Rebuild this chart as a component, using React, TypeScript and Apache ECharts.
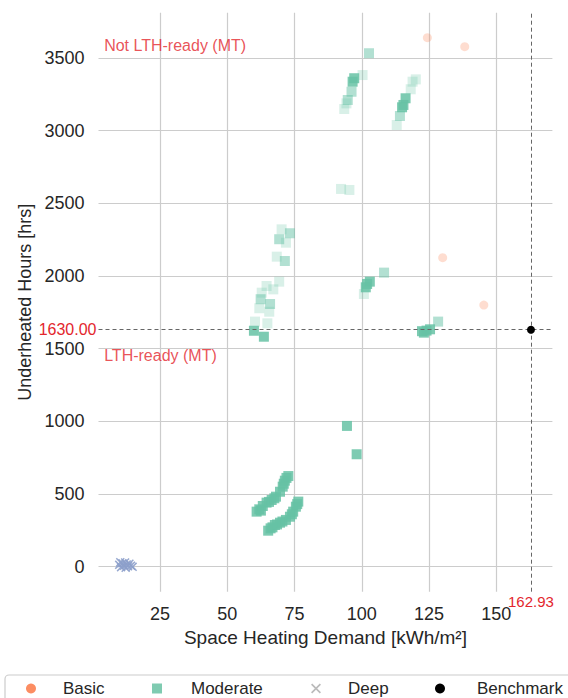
import React, { useEffect, useRef } from 'react';
import * as echarts from 'echarts';

// ---- data ----
const X_TICKS = [25, 50, 75, 100, 125, 150];
const Y_TICKS = [0, 500, 1000, 1500, 2000, 2500, 3000, 3500];
const X_RANGE = [2.1, 170.9];
const Y_RANGE = [-173, 3812];

const BASIC = [
  [124.4, 3640], [138.3, 3578], [130.1, 2126], [145.4, 1800],
];

const MODERATE_STRONG = [
  [97.2, 3361], [96.6, 3337],
  [116.3, 3223], [115.5, 3177], [115.0, 3161],
  [59.9, 1623], [63.6, 1582],
  [103.0, 1961], [102.0, 1945], [101.5, 1922],
  [124.1, 1624], [123.1, 1610], [125.4, 1633], [122.4, 1620],
  [94.5, 968], [98.1, 773],
  [60.9, 378], [61.9, 394], [62.5, 385], [63.2, 417], [64.6, 440], [65.5, 445],
  [66.5, 458], [67.5, 470], [68.1, 481], [69.6, 515], [70.6, 550], [71.0, 570],
  [71.4, 591], [72.0, 610], [72.7, 623],
  [65.2, 247], [66.1, 263], [66.8, 270], [67.7, 286], [68.5, 290], [69.6, 302],
  [70.5, 310], [71.8, 321], [73.3, 343], [74.0, 360], [74.5, 378], [75.5, 412],
  [76.0, 430], [76.4, 447],
];

const MODERATE_MID = [
  [102.7, 3533], [96.2, 3268], [94.8, 3211], [114.2, 3101],
  [73.3, 2294], [69.3, 2253], [71.4, 2103], [65.9, 1807], [62.4, 1840],
  [108.3, 2023], [128.4, 1686],
];

const MODERATE_FAINT = [
  [100.3, 3383], [94.3, 3188], [93.5, 3149],
  [120.1, 3353], [118.9, 3337], [118.2, 3285], [113.0, 3039],
  [92.3, 2599], [95.4, 2592],
  [70.2, 2321], [71.8, 2229], [68.4, 2133], [69.3, 1961], [67.1, 1908],
  [64.6, 1931], [62.8, 1885], [61.9, 1778], [65.6, 1754], [60.3, 1686],
  [64.9, 1674], [100.8, 1876],
];

const DEEP = [
  [9.8, 12], [10.5, -4], [11.0, 22], [11.6, 5], [12.2, -8], [12.6, 15],
  [13.1, 2], [13.6, 20], [14.2, 6], [10.2, 30], [12.0, 28], [14.8, -2],
];

const BENCHMARK = [[162.93, 1630]];
const THRESHOLD_HOURS = 1630;
const BENCHMARK_DEMAND = 162.93;

const ANNOTATIONS = [
  { name: 'Not LTH-ready (MT)', value: [4.2, 3583] },
  { name: 'LTH-ready (MT)', value: [4.2, 1456] },
];

const LEGEND_NAMES = ['Basic', 'Moderate', 'Deep', 'Benchmark'];

// ---- styling ----
const FONT = '"Liberation Sans", Arial, Helvetica, sans-serif';
const TEXT = '#262626';
const RED = '#e3262d';
const C_BASIC = '#fc8d62';
const C_MOD = '#66c2a5';
const C_DEEP = '#8da0cb';
const X_ICON =
  'path://M0,1.2L1.2,0L5,3.8L8.8,0L10,1.2L6.2,5L10,8.8L8.8,10L5,6.2L1.2,10L0,8.8L3.8,5Z';
const SQ_ICON = 'path://M0,0L10,0L10,10L0,10Z';

const LEGEND_LAYOUT: Record<string, { center: number; gap: number }> = {
  Basic: { center: 31, gap: 22 },
  Moderate: { center: 157, gap: 24 },
  Deep: { center: 316, gap: 22 },
  Benchmark: { center: 440, gap: 27 },
};
const LEGEND_ICONS: Record<string, any> = {
  Basic: { icon: 'circle', itemStyle: { color: C_BASIC, opacity: 1 } },
  Moderate: { icon: SQ_ICON, itemStyle: { color: '#7fcbb1', opacity: 1 } },
  Deep: { icon: X_ICON, itemStyle: { color: '#bbbbbb', opacity: 1 } },
  Benchmark: { icon: 'circle', itemStyle: { color: '#000000', opacity: 1 } },
};

function buildOption() {
  const modSeries = (data: number[][], opacity: number) => ({
    type: 'scatter',
    name: 'Moderate',
    symbol: 'rect',
    symbolSize: 10,
    data,
    itemStyle: { color: C_MOD, opacity },
    z: 3,
  });
  const plain = (v: number) => String(v);

  return {
    animation: false,
    textStyle: { fontFamily: FONT },
    grid: { left: 98.5, right: 15.6, top: 12.7, bottom: 106.3, containLabel: false },
    xAxis: {
      type: 'value',
      min: X_RANGE[0],
      max: X_RANGE[1],
      name: 'Space Heating Demand [kWh/m²]',
      nameLocation: 'middle',
      nameGap: 32,
      nameTextStyle: { fontSize: 19, color: TEXT, fontFamily: FONT },
      axisLine: { show: false },
      axisTick: { show: false, customValues: X_TICKS },
      axisLabel: { customValues: X_TICKS, formatter: plain, fontSize: 18, color: TEXT, margin: 13, fontFamily: FONT },
      splitLine: { show: true, lineStyle: { color: '#cccccc', width: 1.2 } },
    },
    yAxis: {
      type: 'value',
      min: Y_RANGE[0],
      max: Y_RANGE[1],
      name: 'Underheated Hours [hrs]',
      nameLocation: 'middle',
      nameGap: 65,
      nameTextStyle: { fontSize: 18, color: TEXT, fontFamily: FONT },
      axisLine: { show: false },
      axisTick: { show: false, customValues: Y_TICKS },
      axisLabel: { customValues: Y_TICKS, formatter: plain, fontSize: 18, color: TEXT, margin: 14, fontFamily: FONT },
      splitLine: { show: true, lineStyle: { color: '#cccccc', width: 1.2 } },
    },
    legend: LEGEND_NAMES.map((name) => ({
      data: [{ name, ...LEGEND_ICONS[name] }],
      left: LEGEND_LAYOUT[name].center - 5,
      top: 680,
      itemWidth: 10,
      itemHeight: 10,
      selectedMode: false,
      padding: 0,
      textStyle: { fontSize: 17, color: TEXT, fontFamily: FONT, padding: [0, 0, 0, LEGEND_LAYOUT[name].gap] },
      z: 10,
    })),
    graphic: [
      {
        type: 'rect',
        shape: { x: 5, y: 675, width: 600, height: 40, r: 4 },
        style: { fill: '#ffffff', stroke: '#cccccc', lineWidth: 1.2 },
        z: 1,
        silent: true,
      },
    ],
    series: [
      {
        type: 'scatter',
        name: 'Basic',
        symbol: 'circle',
        symbolSize: 9,
        data: BASIC,
        itemStyle: { color: C_BASIC, opacity: 0.3 },
        z: 3,
      },
      modSeries(MODERATE_FAINT, 0.25),
      modSeries(MODERATE_MID, 0.5),
      modSeries(MODERATE_STRONG, 0.85),
      {
        type: 'scatter',
        name: 'Deep',
        symbol: X_ICON,
        symbolSize: 9,
        data: DEEP,
        itemStyle: { color: C_DEEP, opacity: 0.9 },
        z: 3,
      },
      {
        type: 'scatter',
        name: 'Benchmark',
        symbol: 'circle',
        symbolSize: 8,
        data: BENCHMARK,
        itemStyle: { color: '#000000', opacity: 1 },
        z: 5,
        markLine: {
          silent: true,
          symbol: 'none',
          animation: false,
          lineStyle: { type: [4, 3], color: '#666666', width: 1 },
          label: { color: RED, fontSize: 16, fontFamily: FONT, distance: 2 },
          data: [
            { yAxis: THRESHOLD_HOURS, label: { position: 'start', formatter: THRESHOLD_HOURS.toFixed(2) } },
            { xAxis: BENCHMARK_DEMAND, label: { position: 'start', formatter: BENCHMARK_DEMAND.toFixed(2), fontSize: 15 } },
          ],
        },
      },
      {
        type: 'scatter',
        name: 'annotations',
        symbolSize: 0,
        silent: true,
        data: ANNOTATIONS,
        label: {
          show: true,
          position: 'right',
          distance: 0,
          formatter: (p: any) => p.name,
          color: RED,
          fontSize: 16,
          fontFamily: FONT,
        },
        z: 6,
      },
    ],
  };
}

export default function App() {
  const ref = useRef<HTMLDivElement>(null);
  useEffect(() => {
    document.body.style.margin = '0';
    const chart = echarts.init(ref.current!, null, { renderer: 'svg' });
    chart.setOption(buildOption() as any);
    return () => chart.dispose();
  }, []);
  return <div ref={ref} style={{ width: 568, height: 698 }} />;
}
